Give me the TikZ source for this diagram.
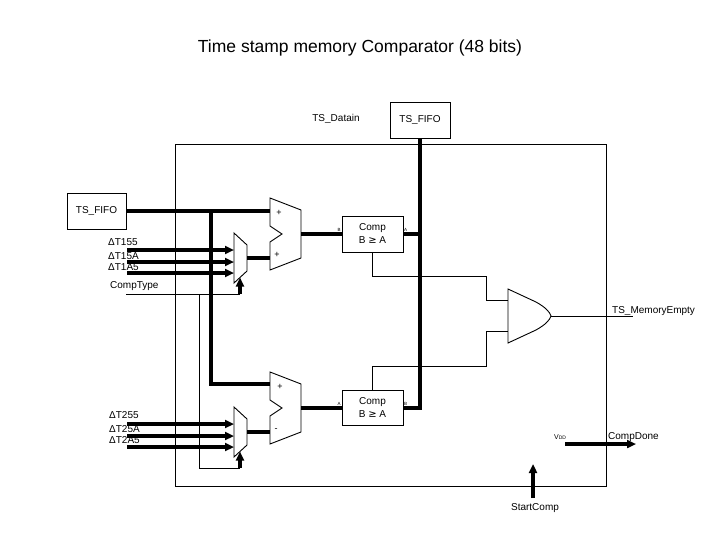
\documentclass[tikz,border=0pt]{standalone}
\usepackage{fontspec}
\setmainfont{Liberation Sans}
\newfontfamily\dvs{DejaVu Sans}
\usetikzlibrary{arrows.meta}
\begin{document}
\begin{tikzpicture}[x=1pt,y=-1pt,
  wire/.style={line width=0.9pt},
  bus/.style={line width=3.2pt},
  busarrow/.style={bus,-{Triangle[length=9pt,width=8pt]}},
  box/.style={draw,line width=0.9pt,inner sep=0pt,font=\fontsize{10}{13}\selectfont,align=center},
  lbl/.style={inner sep=0pt,font=\fontsize{10}{12}\selectfont},
  tinylbl/.style={inner sep=0pt,font=\fontsize{4.5}{5}\selectfont},
  sign/.style={inner sep=0pt,font=\fontsize{9}{10}\selectfont},
  part/.style={draw,line width=0.9pt,fill=white}
]
\useasboundingbox (0,0) rectangle (720,540);
\fill[white] (0,0) rectangle (720,540);

% outer block
\node[draw,line width=0.9pt,minimum width=431pt,minimum height=342pt,inner sep=0pt] (core) at (390.5,315) {};

% title and labels
\node[inner sep=0pt,anchor=base,font=\fontsize{17.5}{20}\selectfont] (title) at (360,52.5) {Time stamp memory Comparator (48 bits)};
\node[lbl,anchor=base] (datain) at (336,121.6) {TS\_Datain};

% boxes
\node[box,minimum width=60pt,minimum height=36pt] (fifoT) at (420,120) {TS\_FIFO};
\node[box,minimum width=59pt,minimum height=36pt] (fifoL) at (96.5,211) {TS\_FIFO};
\node[box,minimum width=61pt,minimum height=36pt] (comp1) at (372.5,234) {Comp\\B {\dvs ≥} A};
\node[box,minimum width=61pt,minimum height=35pt] (comp2) at (372.5,408) {Comp\\B {\dvs ≥} A};

% adders
\draw[part] (270,198) -- (301,210) -- (301,258) -- (270,270) -- (270,242) -- (282,234) -- (270,226) -- cycle;
\coordinate (a1p) at (270,211);
\coordinate (a1q) at (270,258);
\coordinate (a1o) at (301,234);
\draw[part] (270,372) -- (301,384) -- (301,432) -- (270,444) -- (270,416) -- (282,408) -- (270,400) -- cycle;
\coordinate (a2p) at (270,384);
\coordinate (a2q) at (270,432);
\coordinate (a2o) at (301,408);
\node[sign] (s1) at (279,213) {+};
\node[sign] (s2) at (277,255) {+};
\node[sign] (s3) at (280,387) {+};
\node[sign] (s4) at (276,430) {-};

% muxes
\draw[part] (234,233) -- (247,245) -- (247,271) -- (234,283) -- cycle;
\coordinate (m1o) at (247,258);
\coordinate (m1a) at (234,250);
\coordinate (m1b) at (234,262);
\coordinate (m1c) at (234,273);
\coordinate (m1s) at (240,277.5);
\draw[part] (234,407) -- (247,419) -- (247,445) -- (234,457) -- cycle;
\coordinate (m2o) at (247,432);
\coordinate (m2a) at (234,424);
\coordinate (m2b) at (234,436);
\coordinate (m2c) at (234,447);
\coordinate (m2s) at (240,451.5);

% and gate
\draw[part] (508,289) -- (508,343) -- (536,330) .. controls (545,325) and (550,320) .. (551,316) .. controls (550,312) and (545,307) .. (536,302) -- cycle;
\coordinate (gin1) at (508,300);
\coordinate (gin2) at (508,331);
\coordinate (gout) at (551,316);

% delta inputs
\node[lbl,anchor=base west] (d11) at (108,245.6) {ΔT155};
\node[lbl,anchor=base west] (d12) at (108,259) {ΔT15A};
\node[lbl,anchor=base west] (d13) at (108,270) {ΔT1A5};
\node[lbl,anchor=base west] (d21) at (109,418.6) {ΔT255};
\node[lbl,anchor=base west] (d22) at (109,432.6) {ΔT25A};
\node[lbl,anchor=base west] (d23) at (109,443.6) {ΔT2A5};
\coordinate (i11) at (127,250);
\coordinate (i12) at (127,262);
\coordinate (i13) at (127,273);
\coordinate (i21) at (127,424);
\coordinate (i22) at (127,436);
\coordinate (i23) at (127,447);
\draw[busarrow] (i11) -- (m1a);
\draw[busarrow] (i12) -- (m1b);
\draw[busarrow] (i13) -- (m1c);
\draw[busarrow] (i21) -- (m2a);
\draw[busarrow] (i22) -- (m2b);
\draw[busarrow] (i23) -- (m2c);

% comp type select
\node[lbl,anchor=base west] (ctl) at (110,288.6) {CompType};
\coordinate (ct) at (126,294);
\coordinate (ctj) at (199,294);
\coordinate (c1b) at (240,294);
\coordinate (c2b) at (240,468);
\draw[wire] (ct) -- (c1b);
\draw[busarrow] (c1b) -- (m1s);
\draw[wire] (ctj) |- (c2b);
\draw[busarrow] (c2b) -- (m2s);

% data buses
\coordinate (j1) at (211,211);
\draw[bus] (fifoL.east) -- (a1p);
\draw[bus] (j1) |- (a2p);
\draw[bus] (m1o) -- (a1q);
\draw[bus] (m2o) -- (a2q);
\draw[bus] (a1o) -- (comp1.west);
\draw[bus] (a2o) -- (comp2.west);
\coordinate (busR) at (420,234);
\draw[bus] (comp1.east) -- (busR);
\draw[bus] (fifoT.south) |- (comp2.east);

% small port labels
\node[tinylbl] (p1b) at (339,229.5) {B};
\node[tinylbl] (p1a) at (405.5,229.5) {A};
\node[tinylbl] (p2a) at (339,403.5) {A};
\node[tinylbl] (p2b) at (405.5,403.5) {B};

% comparator outputs to gate
\draw[wire] (comp1.south) |- (486,276) |- (gin1);
\draw[wire] (comp2.north) |- (486,366) |- (gin2);
\coordinate (tmE) at (633,316);
\draw[wire] (gout) -- (tmE);
\node[lbl,anchor=base west] (tme) at (612,313) {TS\_MemoryEmpty};

% done / start
\node[inner sep=0pt,anchor=base west,font=\fontsize{7}{8}\selectfont] (vdd) at (554,439) {V{\fontsize{5}{6}\selectfont DD}};
\coordinate (vs) at (565,444);
\coordinate (ve) at (636,444);
\draw[busarrow] (vs) -- (ve);
\node[lbl,anchor=base west] (done) at (608,439.6) {CompDone};
\node[lbl,anchor=base] (start) at (535,510.6) {StartComp};
\coordinate (sb) at (533,498);
\coordinate (st) at (533,464);
\draw[busarrow] (sb) -- (st);
\end{tikzpicture}
\end{document}
